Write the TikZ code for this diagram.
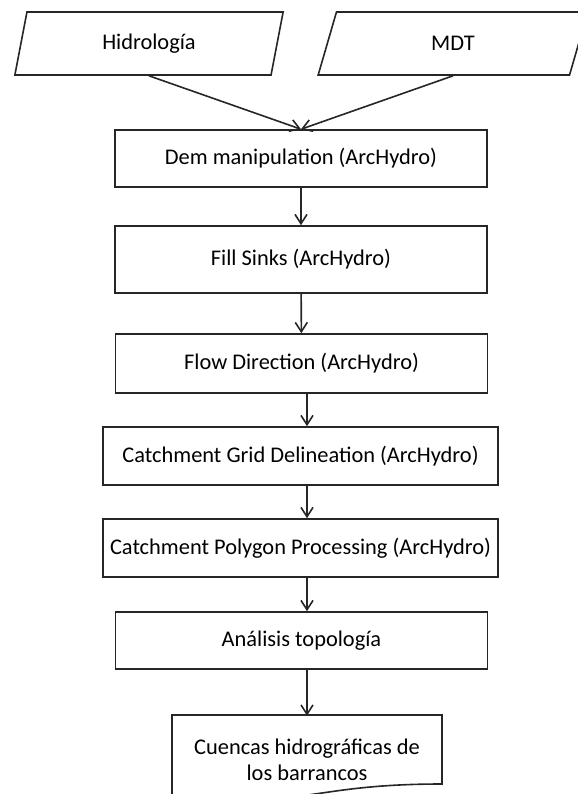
\documentclass[tikz,border=0pt]{standalone}
\usepackage{fontspec}
\setmainfont{Carlito}
\usepackage{tikz}
\usetikzlibrary{arrows.meta}
\usetikzlibrary{shapes.geometric}

\begin{document}
\begin{tikzpicture}[x=0.75pt, y=-0.75pt,
  font=\fontsize{16.8}{19.5}\selectfont,
  line/.style={draw=black!85, line width=1.2pt},
  procbox/.style={line, inner sep=0pt, minimum width=279pt, minimum height=43pt},
  widebox/.style={procbox, minimum width=296pt},
  inputbox/.style={line, trapezium, trapezium stretches=true,
    trapezium left angle=76.6, trapezium right angle=103.4,
    minimum width=202.5pt, minimum height=47.25pt, inner sep=0pt},
  arr/.style={line, -{Straight Barb[length=7pt, width=9pt]}}]
% page frame
\useasboundingbox (0,0) rectangle (578,794);
\clip (0,0) rectangle (578,794);
%
% input data
\node[inputbox] (hidro) at (149,43.5) {Hidrología};
\node[inputbox] (mdt)   at (453,43.5) {MDT};
%
% ArcHydro steps
\node[procbox, minimum height=42.75pt] (dem)  at (301,158.5) {Dem manipulation (ArcHydro)};
\node[procbox, minimum height=50.25pt] (fill) at (301,259.5) {Fill Sinks (ArcHydro)};
\node[procbox, minimum height=44.25pt] (flow) at (301.5,363.5) {Flow Direction (ArcHydro)};
\node[widebox, minimum height=43.5pt]  (grid) at (300.5,456) {Catchment Grid Delineation (ArcHydro)};
\node[widebox, minimum height=43.5pt]  (poly) at (300.5,548) {Catchment Polygon Processing (ArcHydro)};
\node[procbox, minimum height=42.75pt] (anal) at (301.5,640.5) {Análisis topología};
%
% result (document shape)
\node[align=center, minimum width=202.5pt, minimum height=66pt, inner sep=0pt]
  (cuencas) at (307,760) {Cuencas hidrográficas de\\los barrancos};
\draw[line] (172,715) -- (442,715) -- (442,784)
  .. controls (307,784) and (307,810) .. (172,795) -- cycle;
%
% connectors
\draw[arr] (hidro.south) -- (dem.north);
\draw[arr] (mdt.south) -- (dem.north);
\draw[arr] (dem) -- (fill);
\draw[arr] (fill) -- (flow);
\draw[arr] (flow.south -| cuencas) -- (grid.north -| cuencas);
\draw[arr] (grid.south -| cuencas) -- (poly.north -| cuencas);
\draw[arr] (poly.south -| cuencas) -- (anal.north -| cuencas);
\draw[arr] (anal.south -| cuencas) -- (cuencas.north);
\end{tikzpicture}
\end{document}
